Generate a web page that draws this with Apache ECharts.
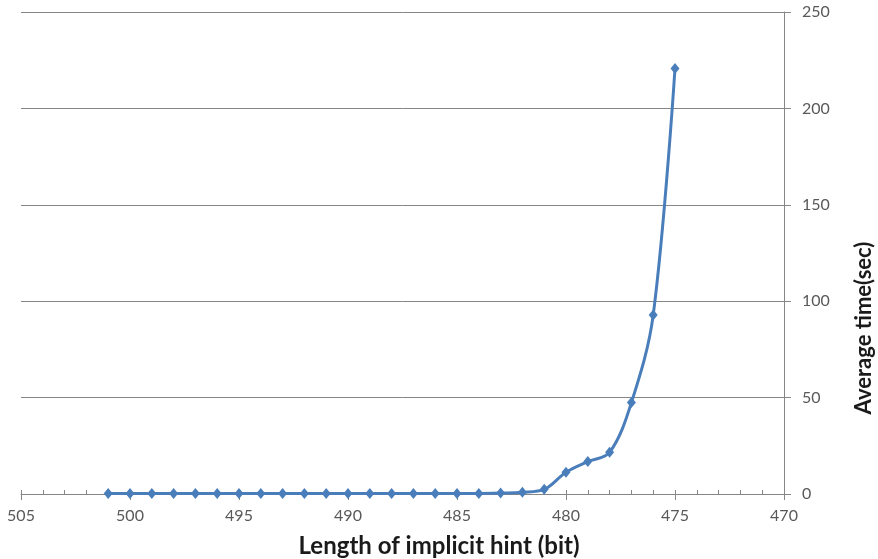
<!DOCTYPE html>
<html><head><meta charset="utf-8">
<script src="https://cdn.jsdelivr.net/npm/echarts@6/dist/echarts.min.js"></script>
<style>html,body{margin:0;padding:0;background:#fff}#c{width:878px;height:559px}</style>
</head><body><div id="c"></div>
<script>
// Data
const hintLengths = [501,500,499,498,497,496,495,494,493,492,491,490,489,488,487,486,485,484,483,482,481,480,479,478,477,476,475];
const avgTimes    = [0.2,0.2,0.2,0.2,0.2,0.2,0.2,0.2,0.2,0.2,0.2,0.2,0.2,0.2,0.2,0.2,0.3,0.3,0.5,0.9,2.4,11.3,16.8,21.6,47.4,92.8,220.7];
const xRange = [470, 505];
const xStep = 5;
const yRange = [0, 250];
const yStep = 50;
const xTitle = 'Length of implicit hint (bit)';
const yTitle = 'Average time(sec)';

const chart = echarts.init(document.getElementById('c'), null, {renderer: 'canvas'});
const gridTop = 12, gridBottom = 65, gridLeft = 21, gridRight = 94;
const gridH = 559 - gridTop - gridBottom;
const axisGray = '#868686';
const labelGray = '#595959';
const font = 'Lato, "Open Sans", sans-serif';

chart.setOption({
  backgroundColor: '#ffffff',
  animation: false,
  grid: {left: gridLeft, right: gridRight, top: gridTop, bottom: gridBottom, containLabel: false},
  xAxis: [{
    type: 'value', min: xRange[0], max: xRange[1], interval: xStep, inverse: true, position: 'bottom',
    axisLine: {show: true, lineStyle: {color: axisGray, width: 1}},
    axisTick: {show: true, inside: true, length: 4, lineStyle: {color: axisGray}},
    minorTick: {show: true, splitNumber: 5, length: 4, lineStyle: {color: axisGray}},
    splitLine: {show: false},
    axisLabel: {color: labelGray, fontSize: 16, fontFamily: font, margin: 14}
  }, {
    type: 'value', min: xRange[0], max: xRange[1], interval: xStep, inverse: true, position: 'top', offset: -gridH,
    axisLine: {show: false},
    axisTick: {show: true, inside: true, length: 6, lineStyle: {color: axisGray}},
    splitLine: {show: false},
    axisLabel: {show: false}
  }],
  yAxis: {
    type: 'value', min: yRange[0], max: yRange[1], interval: yStep, position: 'right',
    axisLine: {show: true, lineStyle: {color: axisGray, width: 1}},
    axisTick: {show: true, inside: false, length: 7, lineStyle: {color: axisGray}},
    splitLine: {show: true, lineStyle: {color: axisGray, width: 1}},
    axisLabel: {color: labelGray, fontSize: 16, fontFamily: font, margin: 18, align: 'left'}
  },
  graphic: [{
    type: 'text', x: 439, y: 546,
    style: {text: xTitle, font: 'bold 24px ' + font, fill: '#1a1a1a', textAlign: 'center', textVerticalAlign: 'middle'}
  }, {
    type: 'text', x: 864, y: 328, rotation: Math.PI / 2,
    style: {text: yTitle, font: 'bold 22px ' + font, fill: '#1a1a1a', textAlign: 'center', textVerticalAlign: 'middle'}
  }],
  series: [{
    type: 'line',
    data: hintLengths.map((x, i) => [x, avgTimes[i]]),
    smooth: 0.35,
    symbol: 'diamond',
    symbolSize: [9, 11],
    lineStyle: {color: '#4a7ebb', width: 3},
    itemStyle: {color: '#4a7ebb'}
  }]
});
</script>
</body></html>
